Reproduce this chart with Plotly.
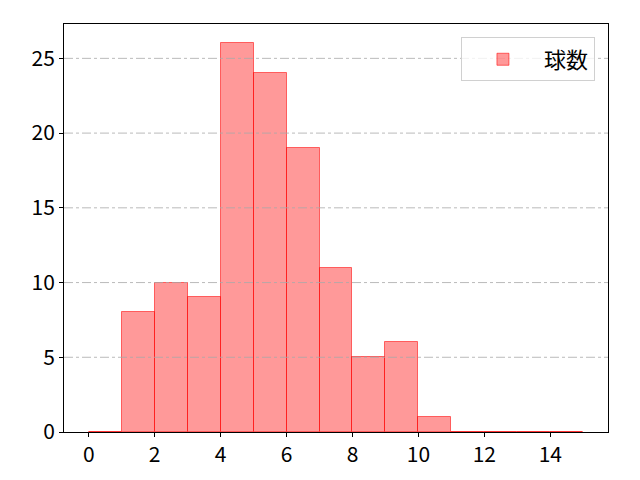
import plotly.graph_objects as go

bin_left = list(range(0, 15))
counts = [0, 8, 10, 9, 26, 24, 19, 11, 5, 6, 1, 0, 0, 0, 0]
series_name = "球数"
x_ticks = [0, 2, 4, 6, 8, 10, 12, 14]
y_ticks = [0, 5, 10, 15, 20, 25]

centers = [b + 0.5 for b in bin_left]

fig = go.Figure()
fig.add_trace(go.Bar(
    x=centers, y=counts, width=1, name=series_name,
    marker=dict(color="rgba(255,0,0,0.4)", line=dict(color="rgba(255,0,0,0.55)", width=1)),
    showlegend=True,
))

shapes = []
for yv in y_ticks[1:]:
    shapes.append(dict(type="line", xref="paper", yref="y", x0=0, x1=1, y0=yv, y1=yv,
                       line=dict(color="rgba(170,170,170,1)", width=0.8, dash="dashdot"),
                       layer="above"))

fig.update_layout(
    width=632, height=472,
    margin=dict(l=56, r=32, t=16, b=48),
    plot_bgcolor="white", paper_bgcolor="white",
    font=dict(family="Noto Sans CJK JP, DejaVu Sans", size=21, color="black"),
    bargap=0,
    shapes=shapes,
    xaxis=dict(range=[-0.75, 15.75], tickvals=x_ticks, ticks="outside", ticklen=4,
               showgrid=False, zeroline=False, showline=True, linecolor="black",
               linewidth=1, mirror=True, tickcolor="black"),
    yaxis=dict(range=[0, 27.3], tickvals=y_ticks, ticks="outside", ticklen=4,
               showgrid=False, zeroline=False, showline=True, linecolor="black",
               linewidth=1, mirror=True, tickcolor="black"),
    legend=dict(x=0.976, y=0.967, xanchor="right", yanchor="top",
                bgcolor="rgba(255,255,255,0.8)", bordercolor="#d0d0d0", borderwidth=1,
                font=dict(size=22), itemwidth=72),
)

fig.write_html("out.html")
